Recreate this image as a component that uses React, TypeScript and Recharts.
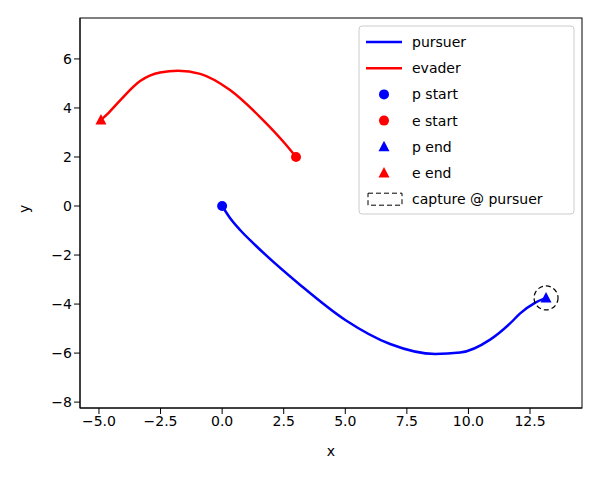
import { ComposedChart, Line, Scatter, XAxis, YAxis } from "recharts";

const pursuerPath = [
  { x: 0, y: 0 }, { x: 0.32, y: -0.49 }, { x: 0.73, y: -0.98 }, { x: 1.34, y: -1.59 },
  { x: 3.17, y: -3.22 }, { x: 5.0, y: -4.65 }, { x: 6.82, y: -5.63 }, { x: 8.65, y: -6.04 },
  { x: 9.66, y: -5.98 }, { x: 10.88, y: -5.45 }, { x: 11.7, y: -4.78 }, { x: 12.1, y: -4.38 },
  { x: 12.7, y: -3.95 }, { x: 13.15, y: -3.75 },
];
const evaderPath = [
  { x: 3, y: 2 }, { x: 2.55, y: 2.55 }, { x: 1.54, y: 3.63 }, { x: 0.32, y: 4.73 },
  { x: -0.89, y: 5.39 }, { x: -1.79, y: 5.52 }, { x: -2.52, y: 5.45 }, { x: -3.33, y: 5.1 },
  { x: -4.15, y: 4.3 }, { x: -4.63, y: 3.78 }, { x: -4.92, y: 3.51 },
];
const pStart = [{ x: 0, y: 0 }];
const eStart = [{ x: 3, y: 2 }];
const pEnd = [{ x: 13.15, y: -3.75 }];
const eEnd = [{ x: -4.92, y: 3.51 }];
const xTicks = [-5, -2.5, 0, 2.5, 5, 7.5, 10, 12.5];
const yTicks = [-8, -6, -4, -2, 0, 2, 4, 6];

const fmt = (v: number, d: number) => v.toFixed(d).replace("-", "\u2212");

const Dot = (color: string) => (p: any) => <circle cx={p.cx} cy={p.cy} r={5} fill={color} />;
const Tri = (color: string) => (p: any) => (
  <polygon points={`${p.cx},${p.cy - 6} ${p.cx - 5.5},${p.cy + 4.5} ${p.cx + 5.5},${p.cy + 4.5}`} fill={color} />
);
const Ring = (p: any) => (
  <circle cx={p.cx} cy={p.cy} r={12} fill="none" stroke="#000" strokeDasharray="5 3" strokeWidth={1.2} />
);

const legendRows: Array<[string, JSX.Element]> = [
  ["pursuer", <line x1={2} y1={8} x2={38} y2={8} stroke="blue" strokeWidth={2.5} />],
  ["evader", <line x1={2} y1={8} x2={38} y2={8} stroke="red" strokeWidth={2.5} />],
  ["p start", <circle cx={20} cy={8} r={5} fill="blue" />],
  ["e start", <circle cx={20} cy={8} r={5} fill="red" />],
  ["p end", <polygon points="20,2 14.5,12.5 25.5,12.5" fill="blue" />],
  ["e end", <polygon points="20,2 14.5,12.5 25.5,12.5" fill="red" />],
  ["capture @ pursuer", <rect x={4} y={2} width={34} height={12} fill="none" stroke="#000" strokeDasharray="5 3" />],
];

export default function App() {
  document.body.style.margin = "0";
  const font = "DejaVu Sans, sans-serif";
  return (
    <div style={{ position: "relative", width: 600, height: 480, fontFamily: font, background: "#fff" }}>
      <ComposedChart width={600} height={480} margin={{ top: 18, right: 18, bottom: 32, left: 24 }}>
        <XAxis
          type="number" dataKey="x" domain={[-5.77, 14.61]} ticks={xTicks} allowDataOverflow
          tickFormatter={(v) => fmt(v, 1)} tick={{ fill: "#000", fontSize: 14 }}
          stroke="#000" height={40}
          label={{ value: "x", position: "insideBottom", offset: -8, fill: "#000", fontSize: 14 }}
        />
        <YAxis
          type="number" dataKey="y" domain={[-8.24, 7.67]} ticks={yTicks} allowDataOverflow
          tickFormatter={(v) => fmt(v, 0)} tick={{ fill: "#000", fontSize: 14 }}
          stroke="#000" width={56}
          label={{ value: "y", angle: -90, position: "insideLeft", offset: 0, fill: "#000", fontSize: 14 }}
        />
        <Line data={pursuerPath} dataKey="y" type="monotone" stroke="blue" strokeWidth={2.5} dot={false} isAnimationActive={false} />
        <Line data={evaderPath} dataKey="y" type="monotone" stroke="red" strokeWidth={2.5} dot={false} isAnimationActive={false} />
        <Scatter data={pStart} dataKey="y" shape={Dot("blue")} isAnimationActive={false} />
        <Scatter data={eStart} dataKey="y" shape={Dot("red")} isAnimationActive={false} />
        <Scatter data={pEnd} dataKey="y" shape={Tri("blue")} isAnimationActive={false} />
        <Scatter data={eEnd} dataKey="y" shape={Tri("red")} isAnimationActive={false} />
        <Scatter data={pEnd} dataKey="y" shape={Ring} isAnimationActive={false} />
      </ComposedChart>
      <svg style={{ position: "absolute", left: 0, top: 0, pointerEvents: "none" }} width={600} height={480}>
        <rect x={80} y={18} width={502} height={390} fill="none" stroke="#000" strokeWidth={1} />
        <rect x={359} y={26} width={215} height={188} rx={3} fill="#fff" fillOpacity={0.85} stroke="#ccc" />
        {legendRows.map(([label, sym], i) => (
          <g key={label} transform={`translate(364, ${34 + i * 26.2})`}>
            {sym}
            <text x={48} y={13} fontSize={14} fontFamily={font} fill="#000">{label}</text>
          </g>
        ))}
      </svg>
    </div>
  );
}
